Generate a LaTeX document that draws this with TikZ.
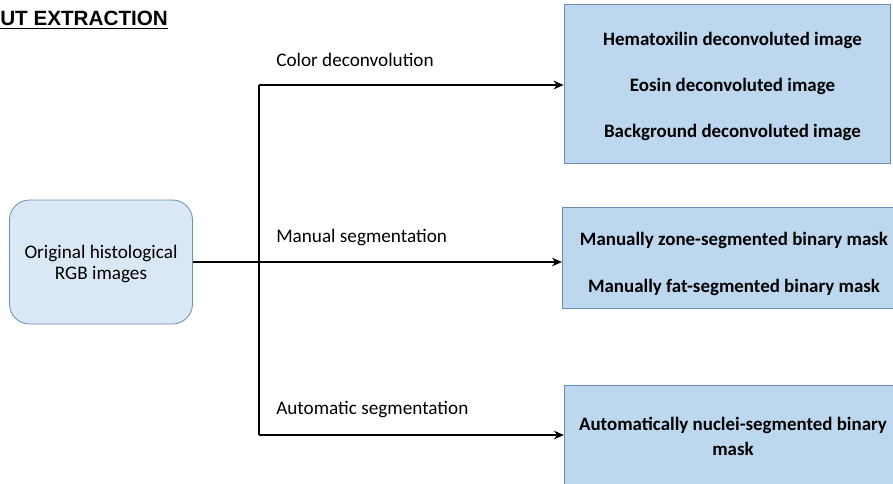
\documentclass[tikz,border=0pt]{standalone}
\usepackage{fontspec}
\setmainfont{Carlito}
\newfontfamily\titlefont{Liberation Sans}
\usetikzlibrary{arrows.meta,positioning}

\definecolor{boxfill}{HTML}{BDD7EE}
\definecolor{srcfill}{HTML}{DAE7F4}
\definecolor{boxedge}{HTML}{6A8DB3}

\begin{document}
\begin{tikzpicture}[x=0.75pt,y=-0.75pt,
    srcbox/.style={draw=boxedge, fill=srcfill, line width=0.6pt, rounded corners=15pt,
        minimum width=137.25pt, minimum height=93pt},
    srctext/.style={align=center, inner sep=0pt, font=\fontsize{14.4}{16}\selectfont},
    outbox/.style={draw=boxedge, fill=boxfill, line width=0.6pt},
    boxtext/.style={align=center, inner sep=0pt, font=\fontsize{14.2}{17}\selectfont\bfseries},
    steplabel/.style={anchor=west, inner sep=0pt, font=\fontsize{14.4}{16}\selectfont},
    flow/.style={line width=2pt},
    flowarrow/.style={line width=2pt, -{Stealth[length=7.5pt,width=6.5pt]}}]
\useasboundingbox (0,0) rectangle (893,483);
\clip (0,0) rectangle (893,483);

% title (cut off at the left)
\node[anchor=west, inner sep=0pt, font=\titlefont\fontsize{15.5}{17}\selectfont\bfseries] (title) at (0,20) {\underline{UT EXTRACTION}};

% input images
\node[srcbox] (orig) at (101,262) {};
\node[srctext] (origtxt) at (101,264) {Original histological\\RGB images};

% outputs
\node[outbox, minimum width=244.5pt, minimum height=119.25pt] (deconv) at (727,83.5) {};
\node[boxtext] (deconvtxt) at (732.5,86)
    {Hematoxilin deconvoluted image\\[17.5pt]Eosin deconvoluted image\\[17.5pt]Background deconvoluted image};
\node[outbox, minimum width=262pt, minimum height=75.75pt] (manual) at (737,257.5) {};
\node[boxtext] (manualtxt) at (734,263.5)
    {Manually zone-segmented binary mask\\[18.25pt]Manually fat-segmented binary mask};
\node[outbox, minimum width=256pt, minimum height=80pt] (autom) at (735,439) {};
\node[boxtext] (automtxt) at (733,436)
    {Automatically nuclei-segmented binary\\[1.75pt]mask};

% branch points
\coordinate (top) at (259,85);
\coordinate (mid) at (259,262);
\coordinate (bot) at (259,435);

\draw[flow] (orig.east) -- (mid);
\draw[flow] (top) -- (bot);
\draw[flowarrow] (top) -- (deconv.west |- top);
\draw[flowarrow] (mid) -- (manual.west |- mid);
\draw[flowarrow] (bot) -- (autom.west |- bot);

\node[steplabel] (lcolor) at (276,60) {Color deconvolution};
\node[steplabel] (lmanual) at (276,237) {Manual segmentation};
\node[steplabel] (lauto) at (276,410) {Automatic segmentation};
\end{tikzpicture}
\end{document}
